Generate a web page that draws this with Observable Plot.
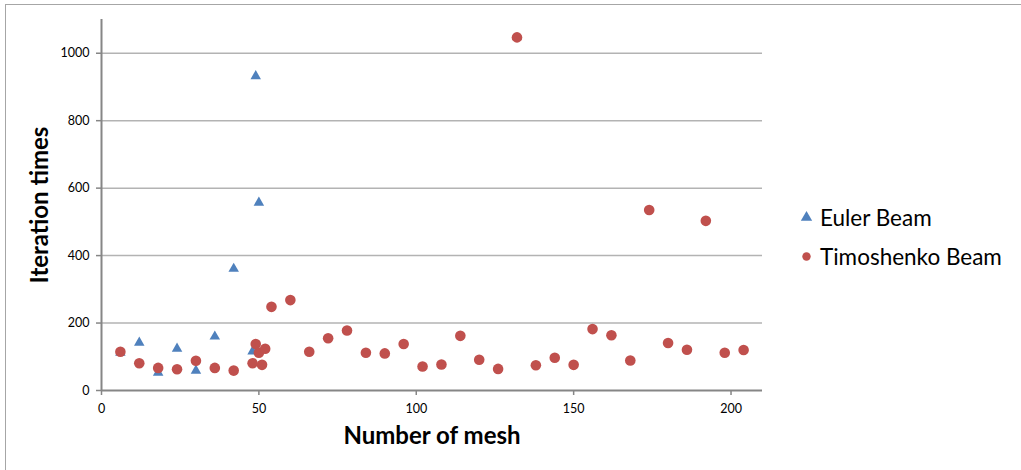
<!DOCTYPE html>
<html>
<head>
<meta charset="utf-8">
<script src="https://cdn.jsdelivr.net/npm/d3@7"></script>
<script src="https://cdn.jsdelivr.net/npm/@observablehq/plot@0.6"></script>
<style>
html, body { margin: 0; padding: 0; background: #fff; overflow: hidden; }
#wrap { position: relative; width: 1021px; height: 470px; overflow: hidden; }
#frame { position: absolute; left: 5px; top: 4px; width: 1100px; height: 600px;
  border-left: 1.5px solid #a6a6a6; border-top: 1.5px solid #a6a6a6; pointer-events: none; }
figure { margin: 0 !important; }
#wrap .pp-swatches { position: absolute; left: 799px; top: 198px; margin: 0 !important;
  display: block !important; width: 222px; white-space: nowrap;
  font-family: Lato, sans-serif !important; font-size: 22.5px !important; color: #000; }
#wrap .pp-swatch { height: 39px; margin: 0 !important; padding-bottom: 0 !important; display: flex; align-items: center; white-space: nowrap; }
#wrap .pp-swatch svg { margin-right: 6px !important; }
</style>
</head>
<body>
<div id="wrap"><div id="frame"></div></div>
<script>
const seriesNames = ["Euler Beam", "Timoshenko Beam"];
const eulerMesh = [6, 12, 18, 24, 30, 36, 42, 48, 49, 50];
const eulerIter = [112, 142, 53, 124, 59, 160, 361, 116, 932, 557];
const timoMesh = [6, 12, 18, 24, 30, 36, 42, 48, 49, 50, 51, 52, 54, 60, 66, 72, 78, 84, 90, 96, 102, 108, 114, 120, 126, 132, 138, 144, 150, 156, 162, 168, 174, 180, 186, 192, 198, 204];
const timoIter = [115, 81, 67, 63, 88, 67, 59, 81, 138, 112, 76, 124, 248, 268, 115, 155, 178, 112, 110, 138, 71, 77, 162, 91, 64, 1047, 75, 97, 76, 182, 164, 89, 535, 141, 121, 503, 112, 120];
const xTicks = [0, 50, 100, 150, 200];
const yTicks = [0, 200, 400, 600, 800, 1000];
const xTitle = "Number of mesh";
const yTitle = "Iteration times";

const euler = eulerMesh.map((m, i) => ({mesh: m, iter: eulerIter[i], series: seriesNames[0]}));
const timo = timoMesh.map((m, i) => ({mesh: m, iter: timoIter[i], series: seriesNames[1]}));

const chart = Plot.plot({
  width: 1021,
  height: 470,
  marginLeft: 101,
  marginRight: 259,
  marginTop: 19,
  marginBottom: 80,
  className: "pp",
  style: {fontFamily: "Lato, sans-serif", fontSize: "12.5px", color: "#000", background: "transparent", overflow: "visible"},
  x: {domain: [0, 210]},
  y: {domain: [0, 1100]},
  symbol: {domain: seriesNames, range: ["triangle", "circle"], legend: true},
  color: {domain: seriesNames, range: ["#4F81BD", "#C0504D"]},
  marks: [
    Plot.gridY(yTicks.filter(d => d > 0), {stroke: "#b3b3b3", strokeOpacity: 1, strokeWidth: 1.5}),
    Plot.axisY(yTicks, {tickSize: 5, tickPadding: 7, stroke: "#868686", strokeWidth: 1.5, label: null, fill: "#000", tickFormat: d => String(d)}),
    Plot.axisX(xTicks, {tickSize: 5, tickPadding: 9, stroke: "#868686", strokeWidth: 1.5, label: null, fill: "#000", tickFormat: d => String(d)}),
    Plot.ruleY([0], {stroke: "#868686", strokeWidth: 2}),
    Plot.ruleX([0], {stroke: "#868686", strokeWidth: 2}),
    Plot.dot(euler, {x: "mesh", y: "iter", symbol: "series", fill: "series", r: 3.9}),
    Plot.dot(timo, {x: "mesh", y: "iter", symbol: "series", fill: "series", r: 5.3}),
    Plot.text([yTitle], {frameAnchor: "left", textAnchor: "middle", rotate: -90, dx: -61, fontSize: 24, fontWeight: "bold", fill: "#000"}),
    Plot.text([xTitle], {frameAnchor: "bottom", textAnchor: "middle", dy: 53, fontSize: 24, fontWeight: "bold", fill: "#000"})
  ]
});
document.getElementById("wrap").appendChild(chart);
</script>
</body>
</html>
